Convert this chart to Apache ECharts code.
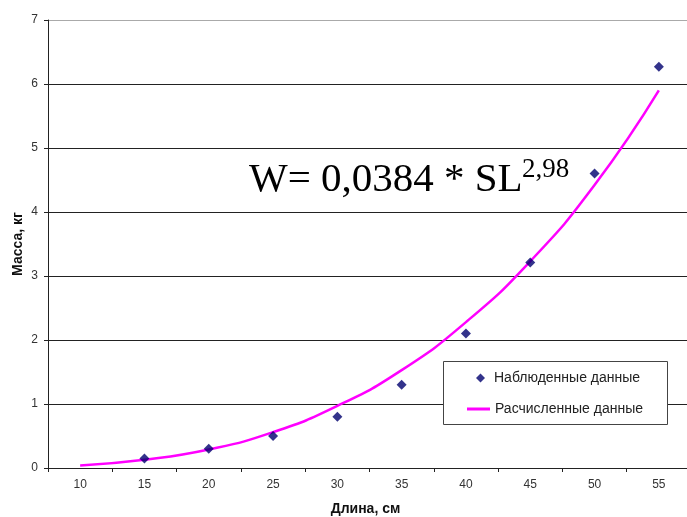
<!DOCTYPE html>
<html>
<head>
<meta charset="utf-8">
<script src="https://cdn.jsdelivr.net/npm/echarts@6/dist/echarts.min.js"></script>
<style>html,body{margin:0;padding:0;background:#fff}#c{width:687px;height:517px}</style>
</head>
<body>
<div id="c"></div>
<script>
var categories = ['10','15','20','25','30','35','40','45','50','55'];
var observed = [null, 0.15, 0.30, 0.50, 0.80, 1.30, 2.10, 3.21, 4.60, 6.27];
var computed = [0.04, 0.13, 0.29, 0.56, 0.97, 1.53, 2.28, 3.23, 4.42, 5.90];
var yTicks = [0, 1, 2, 3, 4, 5, 6, 7];
var observedName = 'Наблюденные данные';
var computedName = 'Расчисленные данные';
var xName = 'Длина, см';
var yName = 'Масса, кг';
var equationMain = 'W= 0,0384 * SL';
var equationSup = '2,98';

var chart = echarts.init(document.getElementById('c'), null, {renderer: 'canvas'});
chart.setOption({
  animation: false,
  backgroundColor: '#fff',
  grid: {left: 48, top: 20, width: 643, bottom: 49, show: false, containLabel: false, outerBoundsMode: 'none'},
  xAxis: {
    type: 'category',
    data: categories,
    boundaryGap: true,
    name: xName,
    nameLocation: 'middle',
    nameGap: 34,
    nameTextStyle: {fontFamily: 'Liberation Sans, Arial', fontWeight: 'bold', fontSize: 14, color: '#111', padding: [0, 8, 0, 0]},
    axisLine: {lineStyle: {color: '#222', width: 1}},
    axisTick: {show: true, length: 4, interval: 0, lineStyle: {color: '#222'}},
    axisLabel: {interval: 0, margin: 11, fontFamily: 'Liberation Sans, Arial', fontSize: 12, color: '#333'},
    splitLine: {show: false}
  },
  yAxis: {
    type: 'value',
    min: yTicks[0],
    max: yTicks[yTicks.length - 1],
    interval: 1,
    name: yName,
    nameLocation: 'middle',
    nameGap: 23,
    nameMoveOverlap: false,
    nameRotate: 90,
    nameTextStyle: {fontFamily: 'Liberation Sans, Arial', fontWeight: 'bold', fontSize: 14, color: '#111'},
    axisLine: {show: true, lineStyle: {color: '#222', width: 1}},
    axisTick: {show: true, length: 4, lineStyle: {color: '#222'}},
    axisLabel: {margin: 10, fontFamily: 'Liberation Sans, Arial', fontSize: 12, color: '#333'},
    splitLine: {show: true, lineStyle: {color: ['#222','#222','#222','#222','#222','#222','#222','#aaa'], width: 1}}
  },
  legend: [
    {
      data: [{name: observedName, icon: 'diamond'}],
      left: 476, top: 371, padding: 0,
      itemWidth: 9, itemHeight: 9,
      textStyle: {fontFamily: 'Liberation Sans, Arial', fontSize: 14, color: '#222', lineHeight: 14, padding: [0,0,0,4]},
      z: 5
    },
    {
      data: [{name: computedName, icon: 'rect'}],
      left: 467, top: 402, padding: 0,
      itemWidth: 23, itemHeight: 3,
      textStyle: {fontFamily: 'Liberation Sans, Arial', fontSize: 14, color: '#222', lineHeight: 14},
      z: 5
    }
  ],
  graphic: [
    {type: 'rect', z: 3, shape: {x: 443.5, y: 361.5, width: 224, height: 63},
     style: {fill: '#fff', stroke: '#444', lineWidth: 1}},
    {type: 'text', z: 6, x: 249, y: 180,
     style: {text: equationMain, fontFamily: 'Liberation Serif, Times New Roman', fontSize: 41, fill: '#000', verticalAlign: 'middle', align: 'left'}},
    {type: 'text', z: 6, x: 522, y: 170,
     style: {text: equationSup, fontFamily: 'Liberation Serif, Times New Roman', fontSize: 27, fill: '#000', verticalAlign: 'middle', align: 'left'}}
  ],
  series: [
    {
      name: computedName,
      type: 'line',
      data: computed,
      smooth: true,
      symbol: 'none',
      lineStyle: {color: '#ff00ff', width: 2.5},
      itemStyle: {color: '#ff00ff'},
      z: 2
    },
    {
      name: observedName,
      type: 'scatter',
      data: observed,
      symbol: 'diamond',
      symbolSize: 10,
      itemStyle: {color: '#00006e'},
      z: 3
    }
  ]
});
</script>
</body>
</html>
